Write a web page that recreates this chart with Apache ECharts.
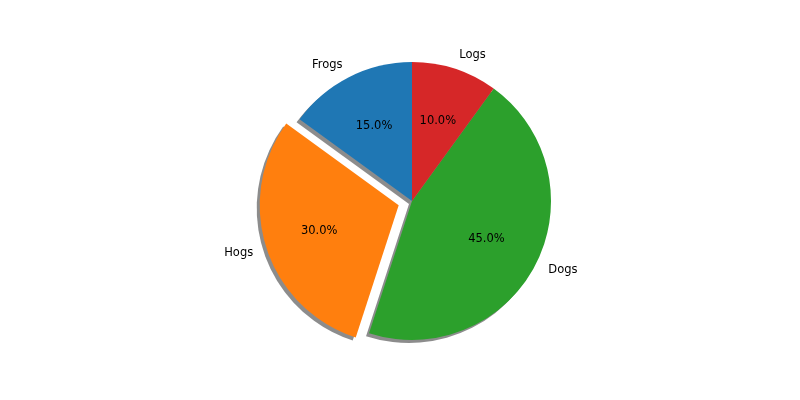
<!DOCTYPE html>
<html>
<head>
<meta charset="utf-8">
<script src="https://cdn.jsdelivr.net/npm/echarts@6/dist/echarts.min.js"></script>
<style>
  html, body { margin: 0; padding: 0; background: #fff; }
  #chart { width: 800px; height: 400px; }
</style>
</head>
<body>
<div id="chart"></div>
<script>
const labels = ['Frogs', 'Hogs', 'Dogs', 'Logs'];
const sizes = [15, 30, 45, 10];
const explode = [false, true, false, false];
const colors = ['#1f77b4', '#ff7f0e', '#2ca02c', '#d62728'];

const cx = 412, cy = 201, r = 139;
const font = { fontFamily: 'DejaVu Sans', fontSize: 11.5, color: '#000' };

const chart = echarts.init(document.getElementById('chart'));

const base = {
  type: 'pie',
  clockwise: false,
  startAngle: 90,
  selectedMode: 'multiple',
  selectedOffset: 14,
  animation: false,
  silent: true,
  emphasis: { disabled: true }
};

const option = {
  animation: false,
  series: [
    // shadow, drawn first like matplotlib
    Object.assign({}, base, {
      z: 1,
      center: [cx - 3, cy + 3],
      radius: [0, r],
      label: { show: false },
      labelLine: { show: false },
      data: labels.map((n, i) => ({
        name: n, value: sizes[i], selected: explode[i],
        itemStyle: { color: 'rgba(0,0,0,0.45)' }
      }))
    }),
    // wedges with outer name labels
    Object.assign({}, base, {
      z: 2,
      center: [cx, cy],
      radius: [0, r],
      label: Object.assign({ show: true, position: 'outside', formatter: '{b}', distanceToLabelLine: 0 }, font),
      labelLine: { show: false, length: 14, length2: 0 },
      data: labels.map((n, i) => ({
        name: n, value: sizes[i], selected: explode[i],
        itemStyle: { color: colors[i] }
      }))
    }),
    // transparent ring for the percent labels
    Object.assign({}, base, {
      z: 3,
      center: [cx, cy],
      radius: [r * 0.16, r],
      label: Object.assign({ show: true, position: 'inside', formatter: p => p.value.toFixed(1) + '%' }, font),
      labelLine: { show: false },
      data: labels.map((n, i) => ({
        name: n, value: sizes[i], selected: explode[i],
        itemStyle: { color: 'rgba(0,0,0,0)' }
      }))
    })
  ]
};

chart.setOption(option);
</script>
</body>
</html>
